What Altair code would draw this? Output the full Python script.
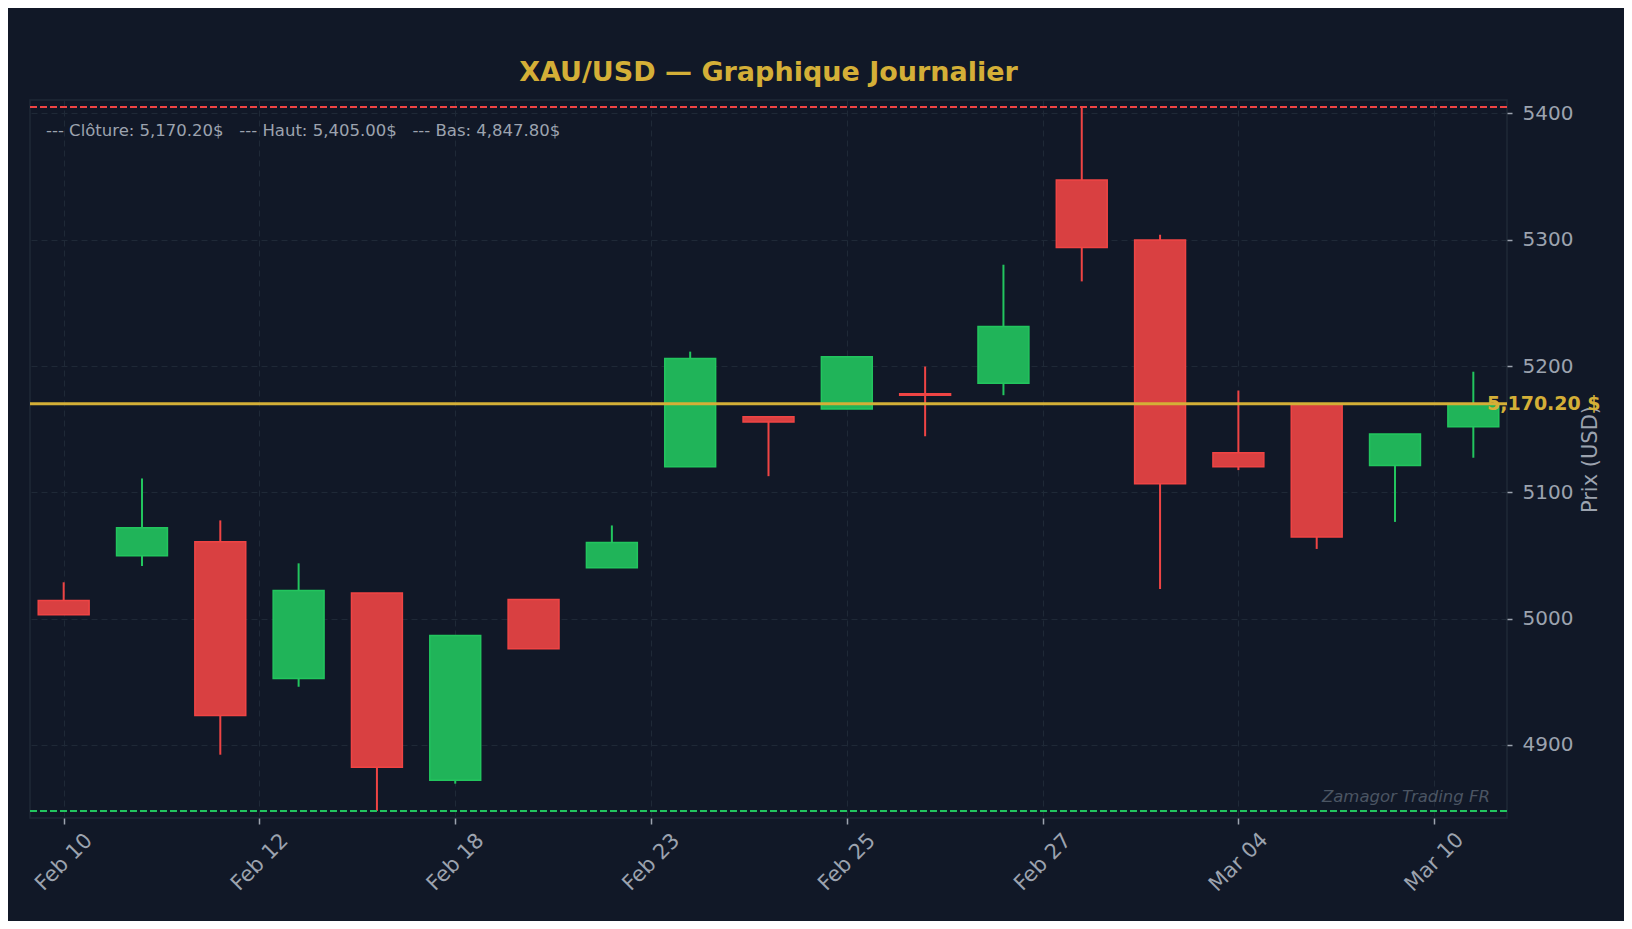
import altair as alt
import pandas as pd

# ---- data ----
idx = list(range(19))
opens = [5014.3, 5049.9, 5060.9, 4952.6, 5020.4, 4872.0, 5015.1, 5040.4, 5120.2, 5159.8,
         5165.9, 5178.0, 5186.4, 5347.2, 5299.7, 5131.3, 5170.0, 5121.3, 5151.9]
highs = [5028.8, 5111.0, 5077.8, 5043.8, 5020.4, 4986.6, 5015.1, 5073.8, 5211.4, 5159.8,
         5207.4, 5199.6, 5280.2, 5405.0, 5304.0, 5180.6, 5170.0, 5146.1, 5195.5]
lows = [5003.2, 5041.7, 4892.3, 4946.1, 4847.8, 4869.4, 4976.2, 5040.4, 5120.2, 5112.8,
        5165.9, 5144.4, 5176.9, 5267.0, 5023.5, 5117.6, 5055.2, 5076.6, 5127.4]
closes = [5003.2, 5072.0, 4923.4, 5022.2, 4882.3, 4986.6, 4976.2, 5060.2, 5205.9, 5155.6,
          5207.4, 5176.8, 5231.2, 5293.9, 5106.8, 5120.3, 5064.7, 5146.1, 5170.2]

tick_pos = [0, 2.5, 5, 7.5, 10, 12.5, 15, 17.5]
tick_labels = ["Feb 10", "Feb 12", "Feb 18", "Feb 23", "Feb 25", "Feb 27", "Mar 04", "Mar 10"]
y_ticks = [4900, 5000, 5100, 5200, 5300, 5400]

close_level = 5170.20
high_level = 5405.00
low_level = 4847.80

title_text = "XAU/USD — Graphique Journalier"
y_title = "Prix (USD)"
watermark = "Zamagor Trading FR"

# ---- style ----
BG = "#111827"
GRID = "#1f2937"
UP = "#22c55e"
DOWN = "#ef4444"
UP_FILL = "#20b459"
DOWN_FILL = "#d94041"
GOLD = "#d4af37"
MUTED = "#9ca3af"
FONT = "DejaVu Sans"

W, H = 1477, 718

df = pd.DataFrame({"i": idx, "open": opens, "high": highs, "low": lows, "close": closes})
df["dir"] = ["up" if c >= o else "down" for o, c in zip(opens, closes)]

x_scale = alt.Scale(domain=[-0.43, 18.43], nice=False, zero=False)
y_scale = alt.Scale(domain=[4842.2, 5410.6], nice=False, zero=False)
color_scale = alt.Scale(domain=["up", "down"], range=[UP, DOWN])
fill_scale = alt.Scale(domain=["up", "down"], range=[UP_FILL, DOWN_FILL])

label_expr = "[" + ",".join(f"'{t}'" for t in tick_labels) + "][round(datum.value / 2.5)]"

x_axis = alt.Axis(values=tick_pos, labelExpr=label_expr, title=None, labelAngle=315,
                  labelAlign="center", labelBaseline="middle", labelPadding=38,
                  tickSize=6, labelOverlap=False, labelFontSize=21)
y_axis = alt.Axis(orient="right", values=y_ticks, title=y_title, format="d",
                  titleAngle=270, titleX=83, titleY=H / 2, titleAlign="center",
                  titleBaseline="middle", titleColor=MUTED, titleFontSize=21,
                  titleFontWeight="normal", titleFont=FONT, tickSize=5, labelPadding=10,
                  labelFontSize=20)

base = alt.Chart(df)

wicks = base.mark_rule(strokeWidth=2).encode(
    x=alt.X("i:Q", scale=x_scale, axis=x_axis),
    y=alt.Y("low:Q", scale=y_scale, axis=y_axis),
    y2="high:Q",
    color=alt.Color("dir:N", scale=color_scale, legend=None),
)

bodies = base.transform_calculate(
    x0="datum.i - 0.325", x1="datum.i + 0.325"
).mark_rect(strokeWidth=1.5).encode(
    x=alt.X("x0:Q", scale=x_scale, axis=x_axis),
    x2="x1:Q",
    y=alt.Y("open:Q", scale=y_scale, axis=y_axis),
    y2="close:Q",
    fill=alt.Fill("dir:N", scale=fill_scale, legend=None),
    stroke=alt.Stroke("dir:N", scale=color_scale, legend=None),
)

def hline(value, color, dash, width):
    kw = dict(color=color, strokeWidth=width)
    if dash:
        kw["strokeDash"] = dash
    return alt.Chart(pd.DataFrame({"v": [value]})).mark_rule(**kw).encode(
        y=alt.Y("v:Q", scale=y_scale, axis=y_axis)
    )

high_line = hline(high_level, DOWN, [7, 3], 2)
low_line = hline(low_level, UP, [7, 3], 2)
close_line = hline(close_level, GOLD, None, 3)

close_label = alt.Chart(pd.DataFrame({"v": [close_level], "t": [f"{close_level:,.2f} $"]})).mark_text(
    align="left", baseline="middle", font=FONT, fontSize=19, fontWeight="bold", color=GOLD
).encode(
    x=alt.value(W - 20),
    y=alt.Y("v:Q", scale=y_scale, axis=y_axis),
    text="t:N",
)

gap = "\u00a0" * 3
ann_text = (f"--- Clôture: {close_level:,.2f}${gap}--- Haut: {high_level:,.2f}${gap}"
            f"--- Bas: {low_level:,.2f}$")
annotation = alt.Chart(pd.DataFrame({"t": [ann_text]})).mark_text(
    align="left", baseline="alphabetic", font=FONT, fontSize=16.5, color=MUTED
).encode(x=alt.value(16), y=alt.value(36), text="t:N")

wm = alt.Chart(pd.DataFrame({"t": [watermark]})).mark_text(
    align="right", baseline="alphabetic", font=FONT, fontSize=16.5, fontStyle="italic",
    color="#4b5563"
).encode(x=alt.value(W - 17), y=alt.value(H - 16), text="t:N")

title = alt.Chart(pd.DataFrame({"t": [title_text]})).mark_text(
    align="center", baseline="alphabetic", font=FONT, fontSize=27, fontWeight="bold",
    color=GOLD
).encode(x=alt.value(W / 2), y=alt.value(-19), text="t:N")

chart = alt.layer(
    wicks, bodies, high_line, low_line, close_line, close_label, annotation, wm, title
).properties(
    width=W,
    height=H,
    padding={"left": 22, "top": 92, "right": 117, "bottom": 103},
    autosize=alt.AutoSizeParams(type="none"),
).configure(
    background=BG, font=FONT
).configure_view(
    fill=BG, stroke=GRID, strokeWidth=1.5
).configure_axis(
    gridColor=GRID, gridDash=[6, 4], gridWidth=1, domain=False,
    labelColor=MUTED, tickColor=MUTED, labelFont=FONT, tickWidth=1.5,
)

chart.save("out.html", embed_options={"renderer": "svg", "actions": False})
